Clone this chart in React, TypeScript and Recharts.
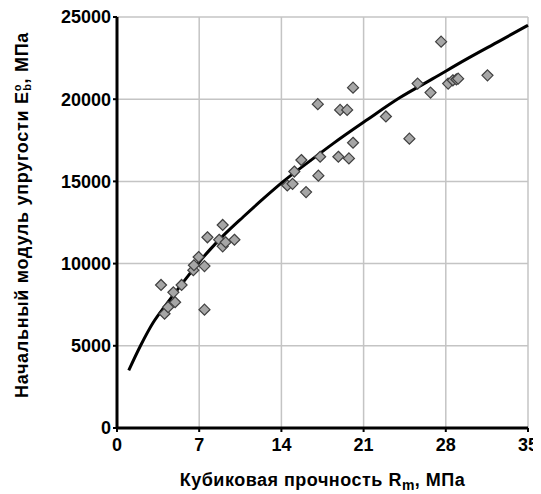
import React from 'react';
import { ScatterChart, Scatter, XAxis, YAxis, CartesianGrid, Label } from 'recharts';

// measured points: cube strength (MPa) vs initial modulus (MPa)
const strength = [
  3.75, 4.05, 4.35, 4.8, 4.95, 5.5, 6.5, 6.55, 6.95, 7.45, 7.45, 7.7, 8.7, 9.0, 9.0, 9.25, 10.0,
  14.5, 14.95, 15.1, 15.7, 16.1, 17.1, 17.15, 17.3, 18.85, 19.0, 19.6, 19.75, 20.1, 20.1,
  22.9, 24.9, 25.6, 26.7, 27.6, 28.2, 28.6, 28.9, 29.05, 31.55,
];
const modulus = [
  8700, 6950, 7350, 8250, 7650, 8700, 9600, 9900, 10400, 9850, 7200, 11600, 11450, 12350, 11050, 11300, 11450,
  14750, 14850, 15600, 16300, 14350, 19700, 15350, 16500, 16500, 19350, 19350, 16400, 17350, 20700,
  18950, 17600, 20950, 20400, 23500, 20950, 21150, 21200, 21250, 21450,
];

// trend curve
const trendX = [1.0, 2.0, 3.07, 4.23, 5.08, 5.94, 7.0, 7.92, 9.05, 10.76, 12.46, 14.17, 16.44, 18.4, 21.3, 24.1, 26.9, 29.8, 32.6, 35];
const trendY = [3500, 5000, 6400, 7550, 8350, 9150, 10100, 10850, 11700, 12850, 13950, 15000, 16250, 17300, 18750, 20100, 21250, 22450, 23550, 24500];

const xTicks = [0, 7, 14, 21, 28, 35];
const yTicks = [0, 5000, 10000, 15000, 20000, 25000];
const X_MAX = 35;
const Y_MAX = 25000;

const points = strength.map((x, i) => ({ x, y: modulus[i] }));
const trend = trendX.map((x, i) => ({ x, y: trendY[i] }));

const FONT = '"Liberation Sans", Arial, sans-serif';

const Diamond = (props: any) => {
  const { cx, cy } = props;
  const r = 5.5;
  return (
    <polygon
      points={`${cx},${cy - r} ${cx + r},${cy} ${cx},${cy + r} ${cx - r},${cy}`}
      fill="#a6a6a6"
      stroke="#404040"
      strokeWidth={1.2}
    />
  );
};

const NoDot = () => <g />;

// grid lines everywhere except under the black axes
const hGrid = ({ offset }: any) =>
  yTicks.slice(1).map((t) => offset.top + offset.height * (1 - t / Y_MAX));
const vGrid = ({ offset }: any) =>
  xTicks.slice(1).map((t) => offset.left + (offset.width * t) / X_MAX);

export default function App() {
  return (
    <ScatterChart
      width={533}
      height={486}
      margin={{ top: 9, right: 13, bottom: 0, left: 0 }}
      style={{ fontFamily: FONT }}
    >
      <CartesianGrid
        stroke="#c4c4c4"
        strokeWidth={1.5}
        horizontalCoordinatesGenerator={hGrid}
        verticalCoordinatesGenerator={vGrid}
      />
      <XAxis
        type="number"
        dataKey="x"
        domain={[0, X_MAX]}
        ticks={xTicks}
        interval={0}
        height={66}
        axisLine={{ stroke: '#000', strokeWidth: 3 }}
        tickLine={{ stroke: '#000', strokeWidth: 2 }}
        tickSize={4}
        tickMargin={6}
        tick={{ fill: '#000', fontSize: 18, fontWeight: 'bold', fontFamily: FONT }}
      >
        <Label
          content={({ viewBox }: any) => (
            <text
              x={viewBox.x + viewBox.width / 2}
              y={478}
              textAnchor="middle"
              fontSize={18}
              fontWeight="bold"
              fontFamily={FONT}
              letterSpacing={0.5}
              fill="#000"
            >
              Кубиковая прочность R<tspan dy={4} fontSize={14}>m</tspan>
              <tspan dy={-4}>, МПа</tspan>
            </text>
          )}
        />
      </XAxis>
      <YAxis
        type="number"
        dataKey="y"
        domain={[0, Y_MAX]}
        ticks={yTicks}
        interval={0}
        width={109}
        axisLine={{ stroke: '#000', strokeWidth: 3 }}
        tickLine={{ stroke: '#000', strokeWidth: 2 }}
        tickSize={4}
        tickMargin={2}
        tick={{ fill: '#000', fontSize: 18, fontWeight: 'bold', fontFamily: FONT }}
      >
        <Label
          content={() => {
            const cx = 20;
            const cy = 207;
            return (
              <text
                x={cx}
                y={cy}
                transform={`rotate(-90 ${cx} ${cy})`}
                textAnchor="middle"
                fontSize={18}
                fontWeight="bold"
                fontFamily={FONT}
                letterSpacing={0.7}
                fill="#000"
              >
                Начальный модуль упругости  E
                <tspan dy={-7} fontSize={11}>o</tspan>
                <tspan dx={-7} dy={10} fontSize={11}>b</tspan>
                <tspan dy={-3}>, МПа</tspan>
              </text>
            );
          }}
        />
      </YAxis>
      <Scatter
        data={trend}
        line={{ stroke: '#000', strokeWidth: 3 }}
        lineJointType="monotoneX"
        shape={NoDot}
        isAnimationActive={false}
      />
      <Scatter data={points} shape={Diamond} isAnimationActive={false} />
    </ScatterChart>
  );
}
